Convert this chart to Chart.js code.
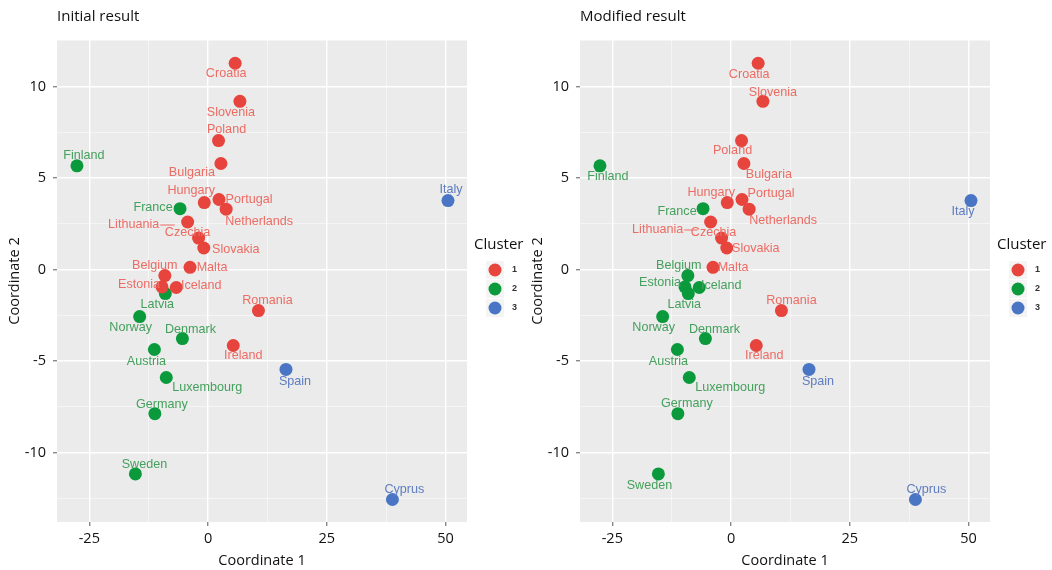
<!DOCTYPE html>
<html>
<head>
<meta charset="utf-8">
<script src="https://cdn.jsdelivr.net/npm/chart.js@4.4.0/dist/chart.umd.min.js"></script>
<style>
  body { margin: 0; background: #fff; }
  .panel { position: absolute; top: 0; width: 526px; height: 570px; }
</style>
</head>
<body>
<div class="panel" style="left:0"><canvas id="initialChart" width="526" height="570"></canvas></div>
<div class="panel" style="left:523px"><canvas id="modifiedChart" width="526" height="570"></canvas></div>
<script>
// MDS coordinates of each country, same in both panels
var countries = ['Croatia', 'Slovenia', 'Poland', 'Bulgaria', 'Finland', 'Hungary', 'Portugal',
  'Netherlands', 'France', 'Lithuania', 'Czechia', 'Slovakia', 'Malta', 'Belgium', 'Estonia',
  'Iceland', 'Latvia', 'Norway', 'Romania', 'Denmark', 'Ireland', 'Austria', 'Luxembourg',
  'Germany', 'Sweden', 'Spain', 'Italy', 'Cyprus'];
var coord1 = [5.7, 6.7, 2.2, 2.7, -27.6, -0.8, 2.3, 3.8, -5.9, -4.3, -2.0, -0.9, -3.8, -9.1, -9.7,
  -6.7, -9.0, -14.4, 10.6, -5.4, 5.3, -11.3, -8.8, -11.2, -15.3, 16.4, 50.5, 38.8];
var coord2 = [11.28, 9.2, 7.05, 5.8, 5.67, 3.66, 3.83, 3.3, 3.33, 2.6, 1.72, 1.18, 0.12, -0.33, -0.95,
  -0.98, -1.31, -2.57, -2.24, -3.77, -4.15, -4.37, -5.9, -7.88, -11.17, -5.46, 3.77, -12.57];
var clusterInitial  = [1, 1, 1, 1, 2, 1, 1, 1, 2, 1, 1, 1, 1, 1, 1, 1, 2, 2, 1, 2, 1, 2, 2, 2, 2, 3, 3, 3];
var clusterModified = [1, 1, 1, 1, 2, 1, 1, 1, 2, 1, 1, 1, 1, 2, 2, 2, 2, 2, 1, 2, 1, 2, 2, 2, 2, 3, 3, 3];
var clusterNames = ['1', '2', '3'];
var xTicks = [-25, 0, 25, 50];
var yTicks = [-10, -5, 0, 5, 10];

var dotColors = ['#E6443C', '#0A9A3C', '#4A75C5'];
var textColors = ['#EC6C64', '#44A05C', '#5E7CC0'];

// label placement (pixel offset from the dot), like ggrepel put them
var offsetsInitial = {
  Croatia: [-9, 10], Slovenia: [-9, 11], Poland: [8, -11], Bulgaria: [-29, 9], Finland: [7, -10],
  Hungary: [-13, -12], Portugal: [30, 0], Netherlands: [33, 12], France: [-27, -1],
  Lithuania: [-54, 3], Czechia: [-11, -6], Slovakia: [32, 2], Malta: [22, 0], Belgium: [-10, -10],
  Estonia: [-23, -2], Iceland: [25, -2], Latvia: [-8, 11], Norway: [-9, 11], Romania: [9, -10],
  Denmark: [8, -9], Ireland: [10, 10], Austria: [-8, 12], Luxembourg: [41, 10], Germany: [7, -9],
  Sweden: [9, -9], Spain: [9, 12], Italy: [3, -11], Cyprus: [12, -10]
};
var offsetsModified = {
  Croatia: [-9, 11], Slovenia: [10, -9], Poland: [-9, 10], Bulgaria: [25, 11], Finland: [8, 11],
  Hungary: [-16, -10], Portugal: [29, -6], Netherlands: [34, 11], France: [-26, 3],
  Lithuania: [-53, 8], Czechia: [-8, -6], Slovakia: [29, 1], Malta: [20, 0], Belgium: [-9, -10],
  Estonia: [-25, -4], Iceland: [22, -2], Latvia: [-4, 11], Norway: [-9, 11], Romania: [10, -10],
  Denmark: [9, -9], Ireland: [8, 10], Austria: [-9, 12], Luxembourg: [41, 10], Germany: [9, -10],
  Sweden: [-9, 12], Spain: [9, 12], Italy: [-8, 11], Cyprus: [11, -10]
};
var leaderLines = ['Lithuania'];

function withMinor(major, min, max) {
  var step = major[1] - major[0];
  var out = [];
  for (var v = major[0] - step / 2; v <= major[major.length - 1] + step / 2; v += step / 2) {
    if (v >= min && v <= max) out.push(v);
  }
  return out;
}

function isMajor(list, v) {
  return list.indexOf(v) >= 0;
}

function buildDatasets(clusters) {
  return clusterNames.map(function (name, k) {
    var pts = [];
    countries.forEach(function (c, i) {
      if (clusters[i] === k + 1) pts.push({ x: coord1[i], y: coord2[i], country: c });
    });
    return {
      label: name,
      data: pts,
      backgroundColor: dotColors[k],
      borderWidth: 0,
      pointRadius: 6.5,
      pointHoverRadius: 6.5
    };
  });
}

var panelBg = {
  id: 'panelBg',
  beforeDraw: function (chart) {
    var a = chart.chartArea, ctx = chart.ctx;
    ctx.save();
    ctx.fillStyle = '#EBEBEB';
    ctx.fillRect(a.left, a.top, a.right - a.left, a.bottom - a.top);
    ctx.restore();
  }
};

function makeLabels(offsets) {
  return {
    id: 'pointLabels',
    afterDatasetsDraw: function (chart) {
      var ctx = chart.ctx;
      ctx.save();
      ctx.font = '12.6px "Liberation Sans", Arial, sans-serif';
      ctx.textAlign = 'center';
      ctx.textBaseline = 'middle';
      chart.data.datasets.forEach(function (ds, k) {
        chart.getDatasetMeta(k).data.forEach(function (pt, i) {
          var name = ds.data[i].country;
          var off = offsets[name] || [0, -11];
          var tx = pt.x + off[0], ty = pt.y + off[1];
          ctx.fillStyle = textColors[k];
          ctx.fillText(name, tx, ty);
          if (leaderLines.indexOf(name) >= 0) {
            var w = ctx.measureText(name).width;
            ctx.strokeStyle = textColors[k];
            ctx.lineWidth = 1;
            ctx.beginPath();
            ctx.moveTo(tx + w / 2 + 1, ty);
            ctx.lineTo(pt.x - 13, ty);
            ctx.stroke();
          }
        });
      });
      ctx.restore();
    }
  };
}

var clusterLegend = {
  id: 'clusterLegend',
  afterDraw: function (chart) {
    var a = chart.chartArea, ctx = chart.ctx;
    var mid = (a.top + a.bottom) / 2;
    ctx.save();
    ctx.fillStyle = '#111';
    ctx.font = '15px "Open Sans", sans-serif';
    ctx.textAlign = 'left';
    ctx.textBaseline = 'middle';
    ctx.fillText('Cluster', a.right + 7, mid - 36);
    chart.data.datasets.forEach(function (ds, k) {
      var cy = mid - 11 + k * 19, cx = a.right + 28;
      ctx.fillStyle = '#F4F4F4';
      ctx.fillRect(cx - 9, cy - 9, 18, 18);
      ctx.fillStyle = ds.backgroundColor;
      ctx.beginPath();
      ctx.arc(cx, cy, 6.5, 0, Math.PI * 2);
      ctx.fill();
      ctx.fillStyle = '#333';
      ctx.font = 'bold 9px "Liberation Sans", sans-serif';
      ctx.fillText(ds.label, a.right + 45, cy);
    });
    ctx.restore();
  }
};

function makeChart(id, title, clusters, offsets) {
  var xMin = -31.8, xMax = 54.5, yMin = -13.8, yMax = 12.55;
  return new Chart(document.getElementById(id), {
    type: 'scatter',
    data: { datasets: buildDatasets(clusters) },
    options: {
      responsive: false,
      animation: false,
      devicePixelRatio: 1,
      layout: { padding: { left: 0, right: 59, top: 0, bottom: 0 } },
      plugins: {
        legend: { display: false },
        tooltip: { enabled: false },
        title: {
          display: true,
          text: title,
          align: 'start',
          fullSize: false,
          color: '#111',
          font: { family: '"Open Sans", sans-serif', size: 15, weight: 'normal' },
          padding: { top: 8, bottom: 14 }
        }
      },
      scales: {
        x: {
          type: 'linear',
          min: xMin,
          max: xMax,
          afterBuildTicks: function (scale) {
            scale.ticks = withMinor(xTicks, xMin, xMax).map(function (v) { return { value: v }; });
          },
          afterFit: function (scale) { scale.height = 48; },
          ticks: {
            autoSkip: false,
            maxRotation: 0,
            padding: 4,
            color: '#111',
            font: { family: '"Open Sans", sans-serif', size: 14.5 },
            callback: function (v) { return isMajor(xTicks, v) ? String(v) : ''; }
          },
          grid: {
            color: function (c) { return isMajor(xTicks, c.tick && c.tick.value) ? '#FFFFFF' : 'rgba(255,255,255,0.7)'; },
            lineWidth: function (c) { return isMajor(xTicks, c.tick && c.tick.value) ? 1.4 : 0.7; },
            tickColor: function (c) { return isMajor(xTicks, c.tick && c.tick.value) ? '#888' : 'rgba(0,0,0,0)'; },
            tickLength: 4
          },
          border: { display: false },
          title: {
            display: true,
            text: 'Coordinate 1',
            color: '#111',
            font: { family: '"Open Sans", sans-serif', size: 14.5 },
            padding: { top: 0, bottom: 0 }
          }
        },
        y: {
          type: 'linear',
          min: yMin,
          max: yMax,
          afterBuildTicks: function (scale) {
            scale.ticks = withMinor(yTicks, yMin, yMax).map(function (v) { return { value: v }; });
          },
          afterFit: function (scale) { scale.width = 57; },
          ticks: {
            autoSkip: false,
            padding: 7,
            color: '#111',
            font: { family: '"Open Sans", sans-serif', size: 14.5 },
            callback: function (v) { return isMajor(yTicks, v) ? String(v) : ''; }
          },
          grid: {
            color: function (c) { return isMajor(yTicks, c.tick && c.tick.value) ? '#FFFFFF' : 'rgba(255,255,255,0.7)'; },
            lineWidth: function (c) { return isMajor(yTicks, c.tick && c.tick.value) ? 1.4 : 0.7; },
            tickColor: function (c) { return isMajor(yTicks, c.tick && c.tick.value) ? '#888' : 'rgba(0,0,0,0)'; },
            tickLength: 4
          },
          border: { display: false },
          title: {
            display: true,
            text: 'Coordinate 2',
            color: '#111',
            font: { family: '"Open Sans", sans-serif', size: 14.5 },
            padding: { top: 6, bottom: 0 }
          }
        }
      }
    },
    plugins: [panelBg, makeLabels(offsets), clusterLegend]
  });
}

makeChart('initialChart', 'Initial result', clusterInitial, offsetsInitial);
makeChart('modifiedChart', 'Modified result', clusterModified, offsetsModified);
</script>
</body>
</html>
